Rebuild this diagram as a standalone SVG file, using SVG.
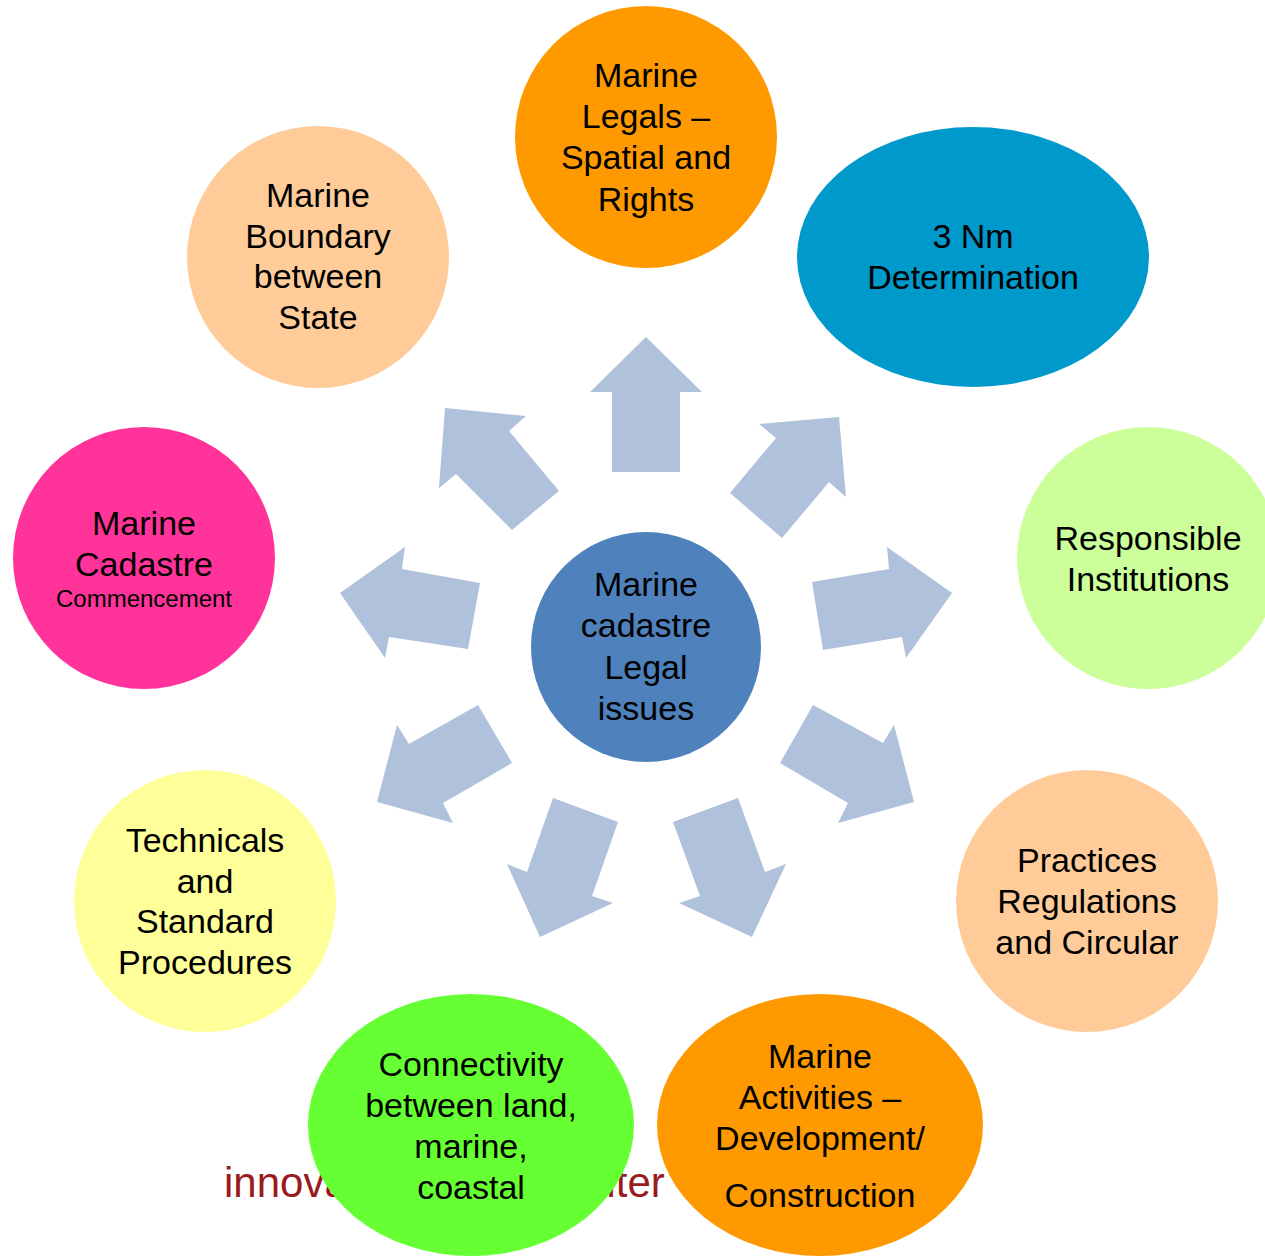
<svg xmlns="http://www.w3.org/2000/svg" width="1265" height="1260" viewBox="0 0 1265 1260">
<style>
.t{font-family:"Liberation Sans",Arial,sans-serif;font-size:34px;fill:#000;text-anchor:middle}
.s{font-size:24px}
.arr{fill:#B0C1DC}
.bg{font-family:"Liberation Sans",Arial,sans-serif;font-size:42px;fill:#991B1E}
</style>
<rect width="1265" height="1260" fill="#fff"/>
<text class="bg" y="1197"><tspan x="224">innovation</tspan><tspan x="548">center</tspan></text>
<g id="connectors">
<polygon class="arr" points="646,337 702,392 680,392 680,472 612,472 612,392 590,392"/>
<polygon class="arr" points="445,408 526,416 509,431 559,491 512,530 456,474 439,488"/>
<polygon class="arr" points="839,417 846,497 829,482 782,538 730,493 776,438 759,424"/>
<polygon class="arr" points="340,593 405,547 402,569 480,583 468,649 389,637 385,658"/>
<polygon class="arr" points="952,593 887,547 889,569 812,582 823,650 902,637 906,658"/>
<polygon class="arr" points="377,802 397,725 409,744 478,705 512,763 443,803 453,823"/>
<polygon class="arr" points="914,802 894,725 883,743 813,705 780,763 848,803 838,823"/>
<polygon class="arr" points="540,937 507,864 527,872 553,798 618,822 592,896 613,903"/>
<polygon class="arr" points="752,937 786,864 765,872 738,798 673,822 700,896 679,903"/>
</g>
<g id="center">
<ellipse cx="646" cy="647" rx="115" ry="115" fill="#4F81BD"/>
<text class="t" x="646" y="596">Marine</text>
<text class="t" x="646" y="637">cadastre</text>
<text class="t" x="646" y="679">Legal</text>
<text class="t" x="646" y="720">issues</text>
</g>
<g id="legals">
<circle cx="646" cy="137" r="131" fill="#FF9900"/>
<text class="t" x="646" y="87">Marine</text>
<text class="t" x="646" y="128">Legals –</text>
<text class="t" x="646" y="169">Spatial and</text>
<text class="t" x="646" y="211">Rights</text>
</g>
<g id="nm">
<ellipse cx="973" cy="257" rx="176" ry="130" fill="#0099CC"/>
<text class="t" x="973" y="248">3 Nm</text>
<text class="t" x="973" y="289">Determination</text>
</g>
<g id="boundary">
<circle cx="318" cy="257" r="131" fill="#FFCC99"/>
<text class="t" x="318" y="207">Marine</text>
<text class="t" x="318" y="248">Boundary</text>
<text class="t" x="318" y="288">between</text>
<text class="t" x="318" y="329">State</text>
</g>
<g id="commencement">
<circle cx="144" cy="558" r="131" fill="#FF3399"/>
<text class="t" x="144" y="535">Marine</text>
<text class="t" x="144" y="576">Cadastre</text>
<text class="t s" x="144" y="607">Commencement</text>
</g>
<g id="institutions">
<circle cx="1148" cy="558" r="131" fill="#CCFF99"/>
<text class="t" x="1148" y="550">Responsible</text>
<text class="t" x="1148" y="591">Institutions</text>
</g>
<g id="practices">
<circle cx="1087" cy="901" r="131" fill="#FFCC99"/>
<text class="t" x="1087" y="872">Practices</text>
<text class="t" x="1087" y="913">Regulations</text>
<text class="t" x="1087" y="954">and Circular</text>
</g>
<g id="technicals">
<circle cx="205" cy="901" r="131" fill="#FFFF99"/>
<text class="t" x="205" y="852">Technicals</text>
<text class="t" x="205" y="893">and</text>
<text class="t" x="205" y="933">Standard</text>
<text class="t" x="205" y="974">Procedures</text>
</g>
<g id="connectivity">
<ellipse cx="471" cy="1125" rx="163" ry="131" fill="#66FF33"/>
<text class="t" x="471" y="1076">Connectivity</text>
<text class="t" x="471" y="1117">between land,</text>
<text class="t" x="471" y="1158">marine,</text>
<text class="t" x="471" y="1199">coastal</text>
</g>
<g id="activities">
<ellipse cx="820" cy="1125" rx="163" ry="131" fill="#FF9900"/>
<text class="t" x="820" y="1068">Marine</text>
<text class="t" x="820" y="1109">Activities –</text>
<text class="t" x="820" y="1150">Development/</text>
<text class="t" x="820" y="1207">Construction</text>
</g>
</svg>
